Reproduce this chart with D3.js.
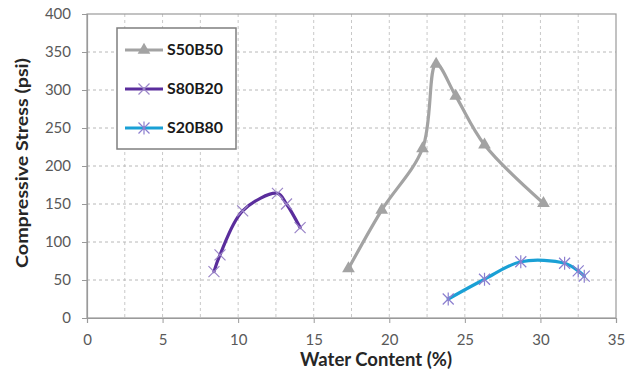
<!DOCTYPE html>
<html><head><meta charset="utf-8">
<script src="https://cdn.jsdelivr.net/npm/d3@7"></script>
<style>body{margin:0;background:#fff}svg{display:block}</style>
</head><body>
<svg id="c" width="633" height="371"></svg>
<script>
const xTicks = [0,5,10,15,20,25,30,35];
const yTicks = [0,50,100,150,200,250,300,350,400];
const seriesNames = ["S50B50","S80B20","S20B80"];
const s50b50X = [17.3,19.5,22.2,23.1,24.4,26.3,30.2];
const s50b50Y = [65,142,223,334,292,228,151];
const s80b20X = [8.4,8.8,10.3,12.6,13.2,14.1];
const s80b20Y = [61,83,141,164,150,119];
const s20b80X = [23.9,26.3,28.7,31.6,32.5,32.9];
const s20b80Y = [25,51,74,72,62,55];

const svg = d3.select("#c");
const L=87,R=616,T=14,B=318;
const x = d3.scaleLinear().domain([0,35]).range([L,R]);
const y = d3.scaleLinear().domain([0,400]).range([B,T]);
const font = "Lato, 'Open Sans', sans-serif";

// gridlines
const g = svg.append("g");
const vgrid = d3.range(2.5,35,2.5);
g.selectAll(".vg").data(vgrid).join("line")
  .attr("x1",d=>x(d)).attr("x2",d=>x(d)).attr("y1",T).attr("y2",B)
  .attr("stroke","#c8c8c8").attr("stroke-width",1).attr("stroke-dasharray","3,3");
g.selectAll(".hg").data(yTicks.filter(d=>d>0&&d<400)).join("line")
  .attr("x1",L).attr("x2",R).attr("y1",d=>y(d)).attr("y2",d=>y(d))
  .attr("stroke","#b8b8b8").attr("stroke-width",1).attr("stroke-dasharray","3,3");
// border
svg.append("rect").attr("x",L).attr("y",T).attr("width",R-L).attr("height",B-T)
  .attr("fill","none").attr("stroke","#9a9a9a").attr("stroke-width",1.2);

// axes
const xa = svg.append("g").attr("transform",`translate(0,${B})`)
  .call(d3.axisBottom(x).tickValues(xTicks).tickSize(5).tickPadding(11));
const ya = svg.append("g").attr("transform",`translate(${L},0)`)
  .call(d3.axisLeft(y).tickValues(yTicks).tickSize(5).tickPadding(11));
[xa,ya].forEach(a=>{
  a.select(".domain").attr("stroke","#9a9a9a").attr("stroke-width",1.2);
  a.selectAll(".tick line").attr("stroke","#9a9a9a");
  a.selectAll("text").attr("fill","#595959").style("font-family",font).style("font-size","15px");
});

// titles
svg.append("text").attr("x",376).attr("y",366).attr("text-anchor","middle")
  .attr("textLength",152).attr("lengthAdjust","spacingAndGlyphs")
  .style("font-family",font).style("font-weight","bold").style("font-size","18px")
  .attr("fill","#262626").text("Water Content (%)");
svg.append("text").attr("transform","translate(28,163) rotate(-90)").attr("text-anchor","middle")
  .attr("textLength",210).attr("lengthAdjust","spacingAndGlyphs")
  .style("font-family",font).style("font-weight","bold").style("font-size","17.5px")
  .attr("fill","#262626").text("Compressive Stress (psi)");

// series
const series = [
  {name:seriesNames[0], xs:s50b50X, ys:s50b50Y, color:"#a3a3a3", mcolor:"#a3a3a3", marker:"tri"},
  {name:seriesNames[1], xs:s80b20X, ys:s80b20Y, color:"#5a2d9c", mcolor:"#9b86c8", marker:"x"},
  {name:seriesNames[2], xs:s20b80X, ys:s20b80Y, color:"#1aa0d5", mcolor:"#8c7fcf", marker:"star"}
];
const line = d3.line().x(d=>x(d[0])).y(d=>y(d[1])).curve(d3.curveCatmullRom.alpha(0.5));
function drawMarker(sel, type, cx, cy, color){
  if(type==="tri"){
    sel.append("path").attr("d",d3.symbol(d3.symbolTriangle,70)())
      .attr("transform",`translate(${cx},${cy})`).attr("fill",color);
  } else {
    const r=5.5;
    const p = `M${cx-r},${cy-r}L${cx+r},${cy+r}M${cx-r},${cy+r}L${cx+r},${cy-r}` + (type==="star"?`M${cx},${cy-r-1}L${cx},${cy+r+1}`:"");
    sel.append("path").attr("d",p).attr("stroke",color).attr("stroke-width",1.2).attr("fill","none");
  }
}
series.forEach(s=>{
  const pts = s.xs.map((v,i)=>[v,s.ys[i]]);
  svg.append("path").datum(pts).attr("d",line).attr("fill","none")
    .attr("stroke",s.color).attr("stroke-width",3.2).attr("stroke-linejoin","round").attr("stroke-linecap","round");
  const mg = svg.append("g");
  pts.forEach(p=>drawMarker(mg,s.marker,x(p[0]),y(p[1]),s.mcolor));
});

// legend
const lg = svg.append("g");
lg.append("rect").attr("x",117).attr("y",28).attr("width",119).attr("height",121)
  .attr("fill","#fff").attr("stroke","#7f7f7f").attr("stroke-width",1.5);
series.forEach((s,i)=>{
  const ly = 50 + i*39;
  lg.append("line").attr("x1",125).attr("x2",163).attr("y1",ly).attr("y2",ly)
    .attr("stroke",s.color).attr("stroke-width",3.2);
  drawMarker(lg,s.marker,144,ly,s.mcolor);
  lg.append("text").attr("x",167).attr("y",ly).attr("dy","0.36em")
    .attr("textLength",56).attr("lengthAdjust","spacingAndGlyphs")
    .style("font-family",font).style("font-weight","bold").style("font-size","15px")
    .attr("fill","#1a1a1a").text(s.name);
});
</script>
</body></html>
